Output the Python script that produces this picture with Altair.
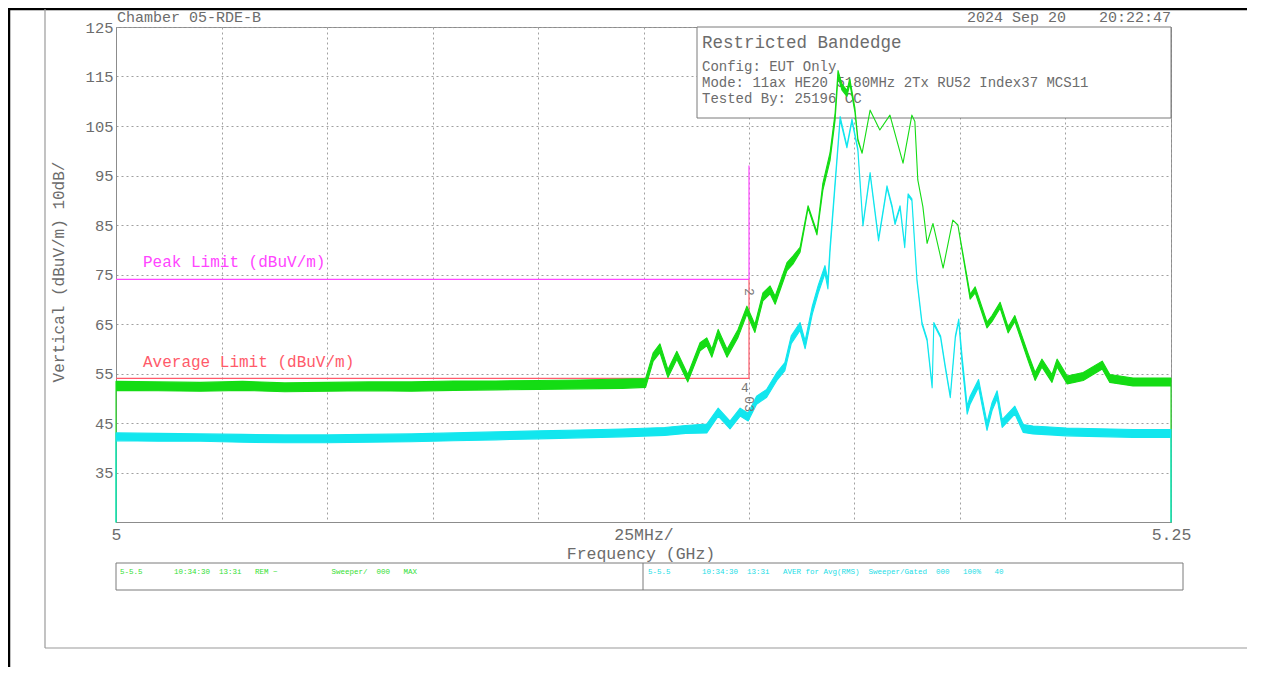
import altair as alt
import pandas as pd

# ---------------- data ----------------
# Peak trace (green): frequency GHz, lower / upper edge of the noisy trace (dBuV/m)
peak_rows = [
    (5.0000, 25.0, 25.0), (5.0000, 51.6, 53.4), (5.0100, 51.5, 53.3), (5.0200, 51.4, 53.2),
    (5.0300, 51.6, 53.4), (5.0400, 51.3, 53.1), (5.0500, 51.4, 53.2), (5.0600, 51.5, 53.3),
    (5.0700, 51.4, 53.3), (5.0800, 51.6, 53.5), (5.0900, 51.7, 53.5), (5.1000, 51.8, 53.6),
    (5.1100, 51.9, 53.7), (5.1200, 52.0, 53.9), (5.1255, 52.2, 54.0), (5.1273, 57.5, 59.2),
    (5.1289, 59.2, 61.0), (5.1308, 54.2, 55.8), (5.1329, 57.9, 59.5), (5.1355, 53.3, 54.8),
    (5.1384, 59.6, 61.2), (5.1400, 60.6, 62.2), (5.1412, 58.3, 59.9), (5.1427, 62.3, 63.9),
    (5.1448, 58.3, 59.9), (5.1474, 62.3, 63.9), (5.1495, 67.0, 68.6), (5.1514, 63.3, 64.9),
    (5.1533, 69.7, 71.3), (5.1550, 71.1, 72.7), (5.1562, 69.0, 70.6), (5.1590, 75.8, 77.4),
    (5.1604, 77.1, 78.7), (5.1621, 79.5, 80.5), (5.1640, 88.4, 88.9), (5.1661, 83.0, 83.6),
    (5.1675, 92.0, 93.4), (5.1692, 98.0, 99.6), (5.1704, 106.2, 107.6), (5.1711, 115.0, 116.2),
    (5.1720, 112.3, 113.5), (5.1732, 111.0, 112.2), (5.1739, 113.5, 114.5), (5.1751, 107.8, 108.6),
    (5.1758, 102.0, 102.4), (5.1768, 99.5, 99.5), (5.1787, 108.2, 108.2), (5.1810, 104.2, 104.2),
    (5.1834, 107.2, 107.2), (5.1865, 97.5, 97.5), (5.1886, 107.2, 107.2), (5.1893, 105.9, 105.9),
    (5.1900, 94.1, 94.1), (5.1912, 88.7, 88.7), (5.1922, 81.3, 81.3), (5.1936, 85.3, 85.3),
    (5.1960, 76.3, 76.3), (5.1983, 86.0, 86.0), (5.1995, 85.0, 85.0), (5.2024, 70.0, 71.0),
    (5.2036, 71.3, 72.5), (5.2064, 64.2, 65.4), (5.2076, 65.5, 66.7), (5.2095, 68.2, 69.4),
    (5.2114, 63.2, 64.4), (5.2130, 65.5, 66.7), (5.2161, 57.7, 59.1), (5.2178, 53.6, 55.2),
    (5.2194, 56.3, 57.9), (5.2218, 53.2, 54.8), (5.2230, 56.3, 57.9), (5.2254, 52.9, 54.5),
    (5.2292, 53.6, 55.2), (5.2337, 55.9, 57.5), (5.2355, 53.2, 54.8), (5.2410, 52.5, 54.1),
    (5.2500, 52.5, 54.1), (5.2500, 25.0, 25.0),
]

# Average trace (cyan)
avg_rows = [
    (5.0000, 25.0, 25.0), (5.0000, 41.4, 43.0), (5.0100, 41.3, 42.9), (5.0200, 41.3, 42.8),
    (5.0300, 41.1, 42.7), (5.0400, 41.0, 42.6), (5.0500, 41.0, 42.6), (5.0600, 41.1, 42.7),
    (5.0700, 41.2, 42.8), (5.0800, 41.4, 43.0), (5.0900, 41.6, 43.2), (5.1000, 41.8, 43.4),
    (5.1100, 42.0, 43.6), (5.1200, 42.2, 43.8), (5.1300, 42.5, 44.1), (5.1350, 42.9, 44.5),
    (5.1400, 43.0, 44.8), (5.1427, 46.4, 48.0), (5.1455, 43.8, 45.4), (5.1479, 46.4, 48.0),
    (5.1498, 45.4, 47.0), (5.1518, 48.8, 50.4), (5.1542, 50.2, 51.8), (5.1566, 53.6, 55.2),
    (5.1585, 55.6, 57.2), (5.1600, 61.0, 62.6), (5.1621, 63.7, 65.3), (5.1633, 60.0, 61.6),
    (5.1650, 67.0, 68.6), (5.1664, 71.2, 72.8), (5.1680, 75.2, 76.8), (5.1687, 72.1, 73.7),
    (5.1692, 79.5, 80.5), (5.1716, 106.3, 106.9), (5.1732, 100.6, 101.0), (5.1744, 106.0, 106.4),
    (5.1758, 100.0, 100.4), (5.1770, 84.8, 85.2), (5.1787, 95.2, 95.6), (5.1807, 81.8, 82.2),
    (5.1827, 92.5, 92.9), (5.1839, 88.5, 88.9), (5.1846, 85.1, 85.5), (5.1858, 88.5, 88.9),
    (5.1869, 80.4, 80.8), (5.1877, 90.9, 91.3), (5.1886, 89.9, 90.3), (5.1898, 73.7, 74.1),
    (5.1910, 64.9, 65.3), (5.1922, 61.6, 62.0), (5.1934, 52.1, 52.5), (5.1938, 64.9, 65.3),
    (5.1954, 62.2, 62.6), (5.1965, 56.2, 56.6), (5.1977, 50.1, 50.5), (5.1989, 62.2, 62.6),
    (5.1997, 65.6, 66.0), (5.2005, 57.0, 58.4), (5.2017, 46.8, 48.4), (5.2024, 48.8, 50.4),
    (5.2044, 52.2, 53.8), (5.2064, 43.5, 45.1), (5.2076, 47.5, 49.1), (5.2088, 49.9, 51.5),
    (5.2100, 44.1, 45.7), (5.2130, 46.8, 48.4), (5.2150, 43.1, 44.7), (5.2173, 42.8, 44.4),
    (5.2252, 42.4, 44.0), (5.2410, 42.1, 43.7), (5.2500, 42.1, 43.7), (5.2500, 25.0, 25.0),
]

limit_names = ["Peak Limit (dBuV/m)", "Average Limit (dBuV/m)"]
limit_levels = [74, 54]
limit_start = [5.0, 5.0]
limit_stop = [5.15, 5.15]
marker_freq = 5.15
marker_top = 97
marker_labels = ["2", "4", "03"]
marker_label_db = [70.7, 52.1, 48.0]
marker_label_angle = [90, 0, 90]

x_ticks = [5.0, 5.025, 5.05, 5.075, 5.1, 5.125, 5.15, 5.175, 5.2, 5.225, 5.25]
y_ticks = [35, 45, 55, 65, 75, 85, 95, 105, 115, 125]

header_left = "Chamber 05-RDE-B"
header_date = "2024 Sep 20"
header_time = "20:22:47"
box_title = "Restricted Bandedge"
box_lines = ["Config: EUT Only",
             "Mode: 11ax HE20 5180MHz 2Tx RU52 Index37 MCS11",
             "Tested By: 25196 CC"]
x_title = "Frequency (GHz)"
y_title = "Vertical (dBuV/m) 10dB/"
strip_green = "5-5.5\u00a0\u00a0\u00a0\u00a0\u00a0\u00a0\u00a010:34:30\u00a0\u00a013:3i\u00a0\u00a0\u00a0REM\u00a0~\u00a0\u00a0\u00a0\u00a0\u00a0\u00a0\u00a0\u00a0\u00a0\u00a0\u00a0\u00a0Sweeper/\u00a0\u00a0000\u00a0\u00a0\u00a0MAX"
strip_cyan = "5-5.5\u00a0\u00a0\u00a0\u00a0\u00a0\u00a0\u00a010:34:30\u00a0\u00a013:3i\u00a0\u00a0\u00a0AVER\u00a0for\u00a0Avg(RMS)\u00a0\u00a0Sweeper/Gated\u00a0\u00a0000\u00a0\u00a0\u00a0100%\u00a0\u00a0\u00a040"

# ---------------- styling ----------------
MONO = "Liberation Mono"
TXT = "#6c6c6c"
GREEN = "#14dc14"
CYAN = "#12e6ee"
MAGENTA = "#ff45ff"
RED = "#ff5a6a"
GRID = "#a0a0a0"
BORDER = "#8c8c8c"

W, H = 1055, 495

xs = alt.Scale(domain=[5.0, 5.25], nice=False, zero=False)
ys = alt.Scale(domain=[25, 125], nice=False, zero=False)

x_axis = alt.Axis(
    values=x_ticks, grid=True, gridDash=[2, 3], gridColor=GRID, gridWidth=1,
    ticks=False, domainColor=BORDER, title=None,
    labelExpr="datum.value < 5.001 ? '5' : (abs(datum.value - 5.125) < 0.001 ? '25MHz/' : (datum.value > 5.249 ? '5.25' : ''))",
    labelFont=MONO, labelFontSize=16.5, labelColor=TXT, labelPadding=4,
    labelFlush=False, labelOverlap=False, labelBound=False,
)
y_axis = alt.Axis(
    values=y_ticks, grid=True, gridDash=[2, 3], gridColor=GRID, gridWidth=1,
    ticks=False, domainColor=BORDER, title=None,
    labelFont=MONO, labelFontSize=15.5, labelColor=TXT, labelPadding=3,
    labelOverlap=False, labelBound=False, labelFlush=False,
)

one = alt.Data(values=[{"a": 1}])


def label(text, x, y, size, color=TXT, align="left", baseline="alphabetic", angle=0):
    return alt.Chart(one).mark_text(
        text=text, align=align, baseline=baseline, fontSize=size, color=color,
        font=MONO, angle=angle,
    ).encode(x=alt.value(x), y=alt.value(y))


def prule(x1, x2, y1, y2, color, width=1.0):
    return alt.Chart(one).mark_rule(color=color, strokeWidth=width).encode(
        x=alt.value(x1), x2=alt.value(x2), y=alt.value(y1), y2=alt.value(y2))


# ---------------- data layers ----------------
peak_df = pd.DataFrame(peak_rows, columns=["f", "lo", "hi"])
avg_df = pd.DataFrame(avg_rows, columns=["f", "lo", "hi"])

peak_layer = alt.Chart(peak_df).mark_area(
    color=GREEN, stroke=GREEN, strokeWidth=1.1, strokeJoin="round", opacity=1, fillOpacity=1
).encode(
    x=alt.X("f:Q", scale=xs, axis=x_axis),
    y=alt.Y("lo:Q", scale=ys, axis=y_axis),
    y2="hi:Q",
)
avg_layer = alt.Chart(avg_df).mark_area(
    color=CYAN, stroke=CYAN, strokeWidth=1.1, strokeJoin="round", opacity=1, fillOpacity=1
).encode(
    x=alt.X("f:Q", scale=xs, axis=x_axis),
    y=alt.Y("lo:Q", scale=ys, axis=y_axis),
    y2="hi:Q",
)

lim_df = pd.DataFrame({"name": limit_names, "level": limit_levels,
                       "start": limit_start, "stop": limit_stop})
peak_limit = alt.Chart(lim_df.iloc[[0]]).mark_rule(color=MAGENTA, strokeWidth=1.2).encode(
    x=alt.X("start:Q", scale=xs, axis=x_axis), x2="stop:Q",
    y=alt.Y("level:Q", scale=ys, axis=y_axis))
avg_limit = alt.Chart(lim_df.iloc[[1]]).mark_rule(color=RED, strokeWidth=1.2).encode(
    x=alt.X("start:Q", scale=xs, axis=x_axis), x2="stop:Q",
    y=alt.Y("level:Q", scale=ys, axis=y_axis))

mk_df = pd.DataFrame({"f": [marker_freq, marker_freq],
                      "y1": [limit_levels[1], limit_levels[0]],
                      "y2": [limit_levels[0], marker_top]})
marker_low = alt.Chart(mk_df.iloc[[0]]).mark_rule(color=RED, strokeWidth=1.2).encode(
    x=alt.X("f:Q", scale=xs, axis=x_axis), y=alt.Y("y1:Q", scale=ys, axis=y_axis), y2="y2:Q")
marker_high = alt.Chart(mk_df.iloc[[1]]).mark_rule(color=MAGENTA, strokeWidth=1.2).encode(
    x=alt.X("f:Q", scale=xs, axis=x_axis), y=alt.Y("y1:Q", scale=ys, axis=y_axis), y2="y2:Q")

ml_df = pd.DataFrame({"f": [marker_freq] * 3, "db": marker_label_db,
                      "t": marker_labels, "ang": marker_label_angle})
marker_text_layers = []
for i in range(3):
    marker_text_layers.append(
        alt.Chart(ml_df.iloc[[i]]).mark_text(
            font=MONO, fontSize=13, color="#777777", dx=-4,
            angle=int(marker_label_angle[i]), align="center", baseline="middle",
        ).encode(x=alt.X("f:Q", scale=xs, axis=x_axis),
                 y=alt.Y("db:Q", scale=ys, axis=y_axis), text="t:N")
    )

# ---------------- annotation layers ----------------
frame = [
    prule(-107, -107, -19, 640, "#000000", 2.5),
    prule(-108, 1131, -18, -18, "#000000", 2.5),
    prule(-71, -71, -18, 621, "#9a9a9a", 1.2),
    prule(-71, 1131, 621, 621, "#9a9a9a", 1.2),
]

box = alt.Chart(one).mark_rect(fill="white", stroke="#7a7a7a", strokeWidth=1).encode(
    x=alt.value(581), x2=alt.value(W), y=alt.value(0), y2=alt.value(91))

box_texts = [
    label(box_title, 586, 21, 17.5),
    label(box_lines[0], 586, 44, 14),
    label(box_lines[1], 586, 60, 14),
    label(box_lines[2], 586, 76, 14),
]

headers = [
    label(header_left, 1, -5, 15),
    label(header_date, 851, -5, 15),
    label(header_time, W, -5, 15, align="right"),
]

limit_texts = [
    label(limit_names[0], 27, 240, 16, color=MAGENTA),
    label(limit_names[1], 27, 340, 16, color=RED),
]

titles = [
    label(x_title, 525, 532, 16.5, align="center"),
    label(y_title, -57, 245, 16, align="center", baseline="middle", angle=270),
]

strip = [
    alt.Chart(one).mark_rect(fill="white", stroke="#7a7a7a", strokeWidth=1).encode(
        x=alt.value(0), x2=alt.value(1067), y=alt.value(536), y2=alt.value(563)),
    prule(527, 527, 536, 563, "#7a7a7a", 1),
    label(strip_green, 4, 545, 7.5, color="#33e033", baseline="middle"),
    label(strip_cyan, 532, 545, 7.5, color="#22dde6", baseline="middle"),
]

layers = (frame + [box] + box_texts + headers + limit_texts + titles + strip
          + [peak_limit, avg_limit, marker_low, marker_high, peak_layer, avg_layer]
          + marker_text_layers)

chart = alt.layer(*layers).properties(
    width=W, height=H,
    padding={"left": 108, "top": 19, "right": 100, "bottom": 145},
    autosize=alt.AutoSizeParams(type="none"),
    background="white",
).configure_view(stroke=BORDER, strokeWidth=1)

chart.save("out.html", embed_options={"renderer": "svg", "actions": False})
